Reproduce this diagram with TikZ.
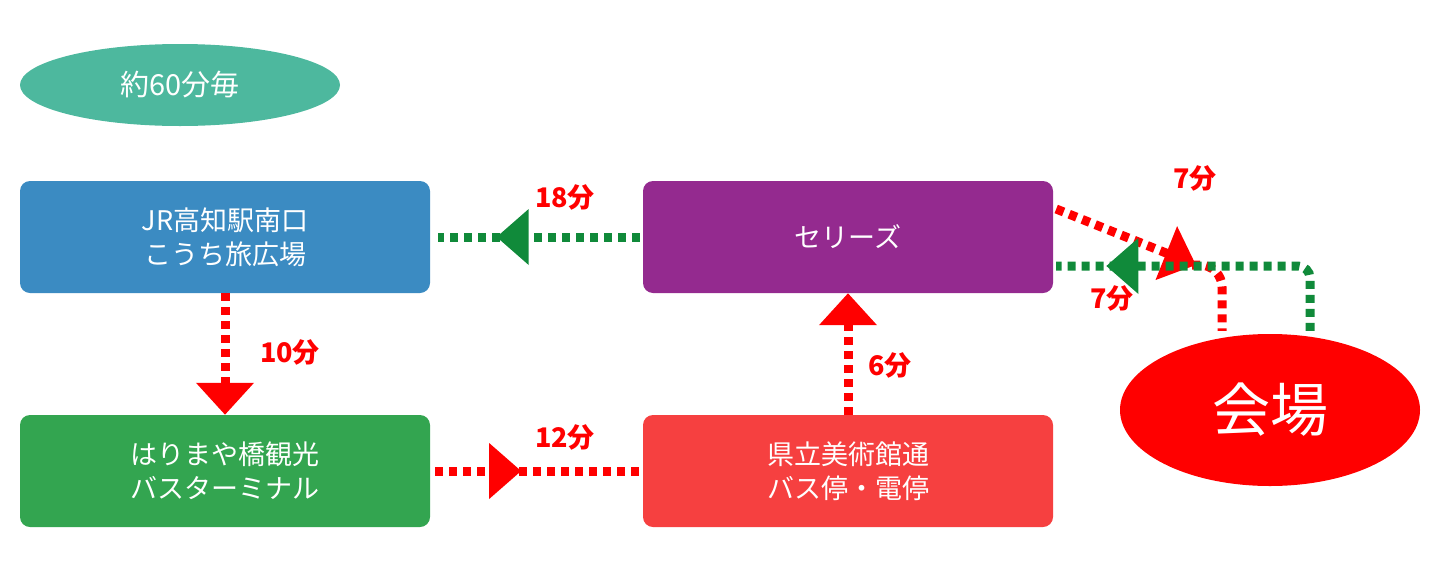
\documentclass[tikz,border=0pt]{standalone}
\usepackage{fontspec}
\setmainfont{Noto Sans CJK JP}
\usetikzlibrary{arrows.meta,decorations.markings,shapes.geometric}
\definecolor{cteal}{HTML}{4DB89E}
\definecolor{cblue}{HTML}{3B8BC2}
\definecolor{cpurple}{HTML}{942A8F}
\definecolor{cgreen}{HTML}{33A550}
\definecolor{cred}{HTML}{F64040}
\definecolor{lred}{HTML}{FF0000}
\definecolor{lgreen}{HTML}{108A3A}
\tikzset{
 box/.style={draw=none,rounded corners=10pt,minimum width=410pt,minimum height=112pt,text=white,font=\fontsize{27}{34}\selectfont,align=center},
 dotline/.style={line width=9pt,dash pattern=on 8pt off 6pt},
 rdot/.style={dotline,draw=lred},
 gdot/.style={dotline,draw=lgreen},
 bigtip/.style={-{Triangle[length=32pt,width=56pt]}},
 midtip/.style={postaction={decorate},decoration={markings,mark=at position #1 with {\arrow[line width=0pt,solid]{Triangle[length=32pt,width=56pt]}}}},
 lab/.style={text=lred,font=\bfseries\fontsize{27}{30}\selectfont}
}
\begin{document}
\begin{tikzpicture}[x=1pt,y=-1pt]
\useasboundingbox (0,0) rectangle (1440,560);
\node[ellipse,fill=cteal,minimum width=320pt,minimum height=82pt,text=white,font=\fontsize{29}{34}\selectfont] (freq) at (180,85) {約60分毎};
\node[box,fill=cblue] (jr) at (225,237) {JR高知駅南口\\こうち旅広場};
\node[box,fill=cpurple] (cel) at (848,237) {セリーズ};
\node[box,fill=cgreen] (hari) at (225,471) {はりまや橋観光\\バスターミナル};
\node[box,fill=cred] (ken) at (848,471) {県立美術館通\\バス停・電停};
\node[ellipse,fill=lred,minimum width=300pt,minimum height=152pt,text=white,font=\fontsize{58}{64}\selectfont] (kai) at (1270,410) {会場};
% connectors
\draw[gdot,midtip=0.71,postaction={draw=none}] ([xshift=-3pt]cel.west) -- ([xshift=8pt]jr.east);
\node[lab] (l18) at (565,197) {18分};
\draw[rdot,bigtip] (jr.south) -- (hari.north);
\node[lab] (l10) at (290,352) {10分};
\draw[rdot,midtip=0.42] ([xshift=5pt]hari.east) -- ([xshift=-3pt]ken.west);
\node[lab] (l12) at (565,437) {12分};
\draw[rdot,bigtip] (ken.north) -- (cel.south);
\node[lab] (l6) at (890,365) {6分};
\coordinate (rc) at (1196,265);
\draw[rdot,bigtip] ([yshift=28pt,xshift=3pt]cel.east) -- (rc);
\draw[rdot,rounded corners=22pt] ([xshift=-4pt]rc) -| ([xshift=-48pt,yshift=3pt]kai.north);
\node[lab] (l7a) at (1112,298) {7分};
\draw[gdot,rounded corners=12pt,midtip=0.84] ([xshift=40pt,yshift=3pt]kai.north) |- ([yshift=-29pt,xshift=3pt]cel.east);
\node[lab] (l7b) at (1195,178) {7分};
\end{tikzpicture}
\end{document}
